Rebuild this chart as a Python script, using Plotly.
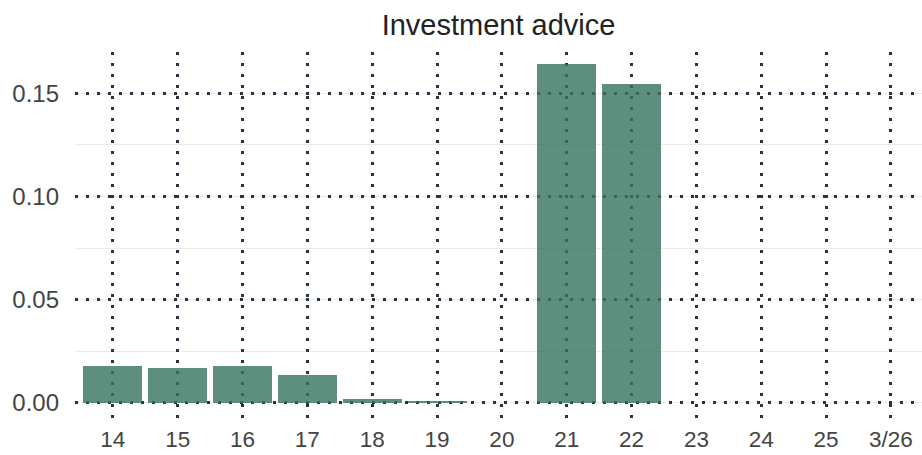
import plotly.graph_objects as go

dates = ["2020-03-14", "2020-03-15", "2020-03-16", "2020-03-17", "2020-03-18",
         "2020-03-19", "2020-03-20", "2020-03-21", "2020-03-22", "2020-03-23",
         "2020-03-24", "2020-03-25", "2020-03-26"]
values = [0.0179, 0.0169, 0.0179, 0.0135, 0.0019, 0.0010, 0.0, 0.164, 0.1543,
          None, None, None, None]
tick_labels = ["14", "15", "16", "17", "18", "19", "20", "21", "22", "23", "24", "25", "3/26"]
y_ticks = [0.0, 0.05, 0.10, 0.15]

DAY_MS = 86400000
GRID = "#283442"

fig = go.Figure(go.Bar(
    x=dates, y=values,
    width=0.91 * DAY_MS,
    marker=dict(color="#37735f", line=dict(width=0)),
    opacity=0.8,
    hoverinfo="x+y",
))

fig.update_layout(
    width=922, height=455,
    margin=dict(l=75, r=0, t=52, b=37),
    paper_bgcolor="white", plot_bgcolor="white",
    font=dict(family="Liberation Sans, Arial, sans-serif", color="#444", size=20),
    title=dict(text="Investment advice", xref="paper", x=0.5, xanchor="center",
               y=0.945, yanchor="middle",
               font=dict(size=29, color="#222")),
    showlegend=False,
    bargap=0,
)
fig.update_xaxes(
    type="date", automargin=False,
    range=["2020-03-13 10:00", "2020-03-26 11:30"],
    tickvals=dates, ticktext=tick_labels,
    showgrid=True, gridcolor=GRID, gridwidth=2.5, griddash="2.5px,8.5px",
    zeroline=False, showline=False, ticks="",
    ticklabelstandoff=5,
    tickfont=dict(size=22.5, color="#444"),
)
fig.update_yaxes(
    automargin=False,
    range=[-0.0073, 0.17],
    tickvals=y_ticks, tickformat=".2f",
    showgrid=True, gridcolor=GRID, gridwidth=2.5, griddash="2.5px,8.5px",
    minor=dict(dtick=0.025, tick0=0, showgrid=True, gridcolor="#ebebeb", gridwidth=1,
               griddash="solid", ticks=""),
    zeroline=False, showline=False, ticks="",
    ticklabelstandoff=15,
    tickfont=dict(size=24, color="#444"),
)

fig.write_html("out.html", config={"displayModeBar": False},
               post_script="document.body.style.margin='0';document.body.style.overflow='hidden';")
